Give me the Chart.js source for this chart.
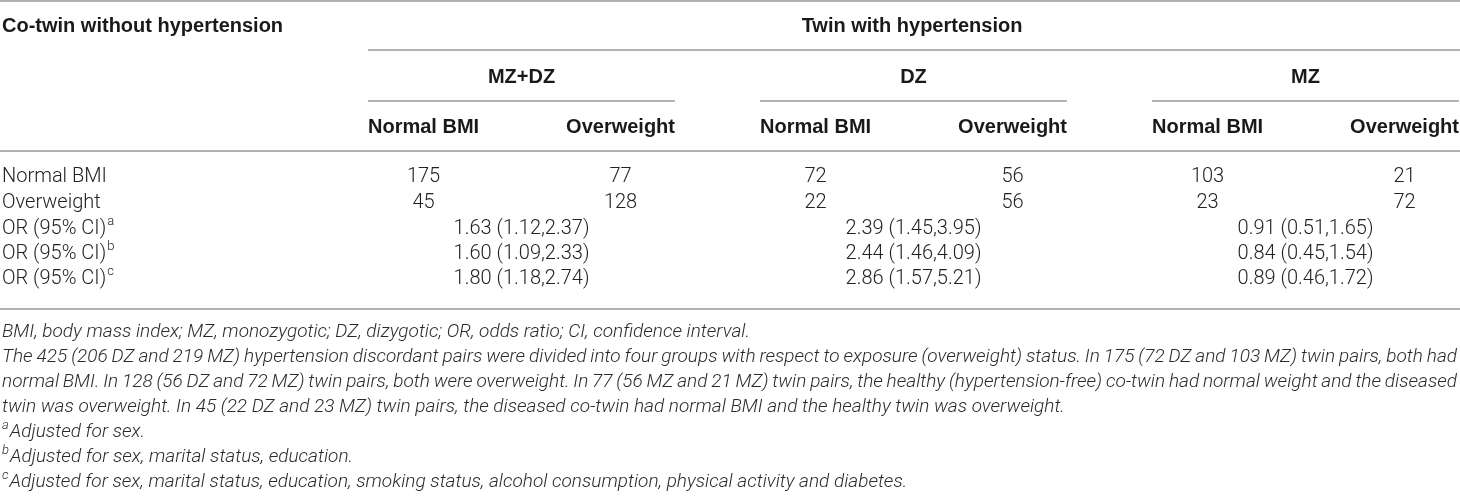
<!DOCTYPE html>
<html lang="en">
<head>
<meta charset="utf-8">
<title>Hypertension discordant twin pairs by BMI</title>
<script src="https://cdn.jsdelivr.net/npm/chart.js@4.4.1/dist/chart.umd.min.js"></script>
<style>
  html, body { margin: 0; padding: 0; background: #ffffff; }
  #wrap { width: 1460px; height: 497px; }
</style>
</head>
<body>
<div id="wrap"><canvas id="myChartTable" width="1460" height="497"></canvas></div>
<script>
//? Table contents.

const headLeft = "Co-twin without hypertension";
const headRight = "Twin with hypertension";
const groups = ["MZ+DZ", "DZ", "MZ"];
const subColumns = ["Normal BMI", "Overweight"];

const rowLabels = ["Normal BMI", "Overweight"];
const countsNormalBmi = [175, 77, 72, 56, 103, 21];
const countsOverweight = [45, 128, 22, 56, 23, 72];

const orLabel = "OR (95% CI)";
const orMarks = ["a", "b", "c"];
const orAdjSex = ["1.63 (1.12,2.37)", "2.39 (1.45,3.95)", "0.91 (0.51,1.65)"];
const orAdjSocial = ["1.60 (1.09,2.33)", "2.44 (1.46,4.09)", "0.84 (0.45,1.54)"];
const orAdjFull = ["1.80 (1.18,2.74)", "2.86 (1.57,5.21)", "0.89 (0.46,1.72)"];

const notesText = [
  "BMI, body mass index; MZ, monozygotic; DZ, dizygotic; OR, odds ratio; CI, confidence interval.",
  "The 425 (206 DZ and 219 MZ) hypertension discordant pairs were divided into four groups with respect to exposure (overweight) status. In 175 (72 DZ and 103 MZ) twin pairs, both had",
  "normal BMI. In 128 (56 DZ and 72 MZ) twin pairs, both were overweight. In 77 (56 MZ and 21 MZ) twin pairs, the healthy (hypertension-free) co-twin had normal weight and the diseased",
  "twin was overweight. In 45 (22 DZ and 23 MZ) twin pairs, the diseased co-twin had normal BMI and the healthy twin was overweight.",
];
const notesMarks = ["a", "b", "c"];
const notesAdjust = [
  "Adjusted for sex.",
  "Adjusted for sex, marital status, education.",
  "Adjusted for sex, marital status, education, smoking status, alcohol consumption, physical activity and diabetes.",
];

//? -------------------------------------------------

//? Layout (in scale units, 1 unit = 1 px of the reference).

const groupStart = [368, 760, 1152];
const groupWidth = 307;
const yTitle = 26;
const yGroup = 77;
const ySub = 127;
const yRows = [177, 203, 229, 254, 279];
const yNotes = [332, 357, 382, 407, 432, 457, 482];
const hLines = [
  { y: 1, x0: 0, x1: 1460 },
  { y: 50, x0: 368, x1: 1460 },
  { y: 151, x0: 0, x1: 1460 },
  { y: 309, x0: 0, x1: 1460 },
];

const fontBold = 'bold 20px "Liberation Sans", Arial, sans-serif';
const fontBody = '300 20px Roboto, "Liberation Sans", sans-serif';
const fontSup = '300 13px Roboto, "Liberation Sans", sans-serif';
const fontNote = 'italic 300 19px Roboto, "Liberation Sans", sans-serif';
const fontNoteSup = 'italic 300 13px Roboto, "Liberation Sans", sans-serif';

//? -------------------------------------------------

//? Text helpers.

const textWithSup = (ctx, txt, mark, x, y, font, supFont, rise) => {
  ctx.font = font;
  ctx.fillText(txt, x, y);
  const w = ctx.measureText(txt).width;
  ctx.font = supFont;
  ctx.fillText(mark, x + w + 1, y - rise);
};

const justified = (ctx, txt, x0, x1, y) => {
  const words = txt.split(" ");
  const widths = words.map((m) => ctx.measureText(m).width);
  const total = widths.reduce((s, v) => s + v, 0);
  const gap = (x1 - x0 - total) / (words.length - 1);
  let cx = x0;
  words.forEach((m, i) => {
    ctx.fillText(m, cx, y);
    cx += widths[i] + gap;
  });
};

//? -------------------------------------------------

//? Plugin drawing the table through the chart scales.

const tablePlugin = {
  id: "tablePlugin",
  afterDraw(chart) {
    const ctx = chart.ctx;
    const px = (v) => chart.scales.x.getPixelForValue(v);
    const py = (v) => chart.scales.y.getPixelForValue(v);

    ctx.save();
    ctx.textBaseline = "middle";

    //? rules
    ctx.strokeStyle = "#b2b2b2";
    ctx.lineWidth = 2;
    const rule = (y, x0, x1) => {
      ctx.beginPath();
      ctx.moveTo(px(x0), py(y));
      ctx.lineTo(px(x1), py(y));
      ctx.stroke();
    };
    hLines.forEach((l) => rule(l.y, l.x0, l.x1));
    groupStart.forEach((g) => rule(101, g, g + groupWidth));

    //? header
    ctx.fillStyle = "#1a1a1a";
    ctx.font = fontBold;
    ctx.textAlign = "left";
    ctx.fillText(headLeft, px(2), py(yTitle));
    ctx.textAlign = "center";
    ctx.fillText(headRight, px(groupStart[0] + (1460 - groupStart[0]) / 2 - 2), py(yTitle));

    const centers = [];
    groups.forEach((g, i) => {
      const s = groupStart[i];
      ctx.font = fontBold;
      ctx.textAlign = "center";
      ctx.fillText(g, px(s + groupWidth / 2), py(yGroup));
      ctx.textAlign = "left";
      ctx.fillText(subColumns[0], px(s), py(ySub));
      const w0 = ctx.measureText(subColumns[0]).width;
      ctx.textAlign = "right";
      ctx.fillText(subColumns[1], px(s + groupWidth), py(ySub));
      const w1 = ctx.measureText(subColumns[1]).width;
      centers.push(s + w0 / 2, s + groupWidth - w1 / 2);
    });

    //? body rows
    ctx.fillStyle = "#222222";
    ctx.font = fontBody;
    ctx.textAlign = "left";
    rowLabels.forEach((r, i) => ctx.fillText(r, px(2), py(yRows[i])));
    orMarks.forEach((m, i) => {
      ctx.textAlign = "left";
      textWithSup(ctx, orLabel, m, px(2), py(yRows[2 + i]), fontBody, fontSup, 7);
    });

    ctx.font = fontBody;
    ctx.textAlign = "center";
    countsNormalBmi.forEach((v, i) => ctx.fillText(String(v), px(centers[i]), py(yRows[0])));
    countsOverweight.forEach((v, i) => ctx.fillText(String(v), px(centers[i]), py(yRows[1])));
    [orAdjSex, orAdjSocial, orAdjFull].forEach((serie, k) => {
      serie.forEach((v, i) => {
        ctx.fillText(v, px(groupStart[i] + groupWidth / 2), py(yRows[2 + k]));
      });
    });

    //? footnotes
    ctx.fillStyle = "#2a2a2a";
    ctx.font = fontNote;
    ctx.textAlign = "left";
    notesText.forEach((t, i) => {
      if (i === 1 || i === 2) {
        justified(ctx, t, px(2), px(1457), py(yNotes[i]));
      } else {
        ctx.fillText(t, px(2), py(yNotes[i]));
      }
    });
    notesMarks.forEach((m, i) => {
      const y = py(yNotes[4 + i]);
      ctx.font = fontNoteSup;
      ctx.fillText(m, px(2), y - 6);
      const w = ctx.measureText(m).width;
      ctx.font = fontNote;
      ctx.fillText(notesAdjust[i], px(2) + w + 1, y);
    });

    ctx.restore();
  },
};

//? -------------------------------------------------

//? Chart construction.

const constructionTableau = () => {
  const ctxTable = document.getElementById("myChartTable").getContext("2d");

  const config = {
    type: "scatter",
    data: { datasets: [{ data: [], pointRadius: 0 }] },
    options: {
      responsive: false,
      animation: false,
      events: [],
      layout: { padding: 0 },
      plugins: { legend: { display: false }, tooltip: { enabled: false } },
      scales: {
        x: { type: "linear", min: 0, max: 1460, display: false },
        y: { type: "linear", min: 0, max: 497, reverse: true, display: false },
      },
    },
    plugins: [tablePlugin],
  };

  new Chart(ctxTable, config);
};

constructionTableau();
</script>
</body>
</html>
